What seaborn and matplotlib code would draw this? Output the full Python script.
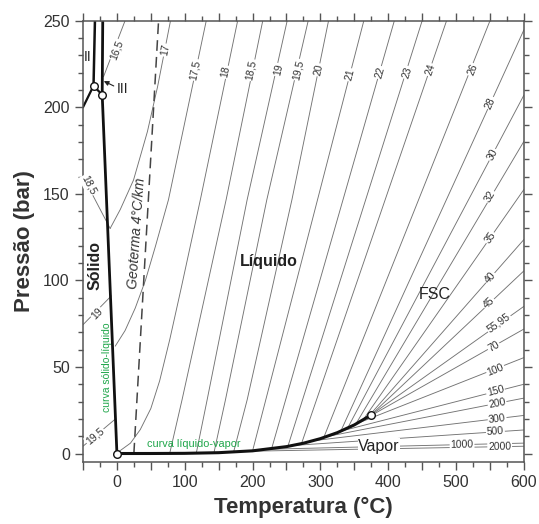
import numpy as np
import pandas as pd
import matplotlib
matplotlib.use("Agg")
import matplotlib.pyplot as plt
from matplotlib.ticker import MultipleLocator, FuncFormatter
import seaborn as sns

# ---------------- data ----------------
# liquid-vapour curve (T in C, P as labelled "bar")
sat_T = [0, 50, 100, 150, 200, 250, 275, 300, 325, 350, 374]
sat_P = [0.0, 0.01, 0.1, 0.48, 1.55, 3.98, 5.95, 8.59, 12.06, 16.53, 22.06]
# solid-liquid curve (ice I)
melt_T = [0, -21.7]
melt_P = [0.0, 207.2]
# ice III - liquid
iii_T = [-21.7, -20.9]
iii_P = [207.2, 250]
# ice II - III
ii_T = [-34.5, -32.4]
ii_P = [212.4, 250]
# ice I - III
i3_T = [-34.5, -21.7]
i3_P = [212.4, 207.2]
# ice I - II
i2_T = [-50, -34.5]
i2_P = [200, 212.4]
# triple / critical points
pts_T = [0, -21.7, -34.5, 374]
pts_P = [0.0, 207.2, 212.4, 22.06]
# geotherm 4 C/km
geo_T = [25, 61.4]
geo_P = [0, 250]

# isochores (label, T points, P points)
iso_names = ["16,5", "17", "17,5", "18", "18,5", "19", "19,5", "20", "21", "22",
             "23", "24", "26", "28", "30", "32", "35", "40", "45", "55,95",
             "70", "100", "150", "200", "300", "500", "1000", "2000"]
iso_T = [[-19.7, 12],
         [-10, 5, 24.5, 45, 60, 79],
         [-2.5, 12, 27, 42, 57, 76, 131.7],
         [0, 20, 34.4, 50, 63, 78, 95, 123, 178],
         [78, 96, 161, 215],
         [117, 133, 192, 251],
         [143, 160, 221, 282],
         [172, 192, 258, 312],
         [200, 364], [228, 409], [252, 450], [272, 486], [305, 550],
         [330, 600], [340, 600], [352, 600], [362, 600], [370, 600],
         [372.5, 600], [374, 600], [366, 600], [352, 600], [330, 600], [312, 600],
         [290, 600], [262, 600], [225, 600], [192, 600]]
iso_P = [[217.7, 250],
         [130, 141, 158, 186, 212, 250],
         [62, 71, 84, 100, 120, 146.6, 250],
         [0.3, 6, 13.8, 26, 42, 66, 96, 146.6, 250],
         [0.4, 31, 146.6, 250],
         [0.2, 31, 146.6, 250],
         [0.4, 31, 146.6, 250],
         [0.8, 31, 146.6, 250],
         [1.55, 250], [2.7, 250], [4.1, 250], [5.6, 250], [9.3, 250],
         [12.9, 244.7], [14.6, 207], [16.9, 180.3], [18.9, 152.5], [21.0, 123.6],
         [21.5, 105.5], [22.06, 85], [20, 71.9], [17, 55.4], [12.9, 40], [10, 32],
         [7.4, 22], [4.7, 13.6], [2.5, 6], [1.3, 4.2]]
lab_T = [0, 71, 115.6, 159.7, 196.8, 238, 267.7, 297, 344, 388, 428, 462, 524,
         550.6, 553.7, 550.6, 550.6, 550.6, 548, 562.8, 555.4, 558, 558, 560.5,
         560.5, 558, 508.8, 564.3]
lab_P = [233, 233, 221.6, 220.4, 221.6, 221.6, 221.6, 221.6, 218.7, 220, 220, 221.6,
         221.6, 202.5, 172.5, 148.3, 124.5, 101.4, 87, 75.4, 61.9, 48.5, 36, 28.9,
         20.2, 12.5, 5.2, 3.9]

# isochores in the solid field
sol_names = ["18,5", "19", "19,5"]
sol_T = [[-50, -10], [-50, -8.4], [-50, -2.1]]
sol_P = [[160, 130], [74.4, 91], [4.2, 20]]
sol_lab_T = [-42, -29.5, -32]
sol_lab_P = [155, 81, 10]

# ---------------- figure ----------------
sns.set_theme(style="ticks")
plt.rcParams['font.family'] = ['Liberation Sans', 'DejaVu Sans']
fig = plt.figure(figsize=(5.39, 5.24), dpi=100)
ax = fig.add_axes([0.154, 0.118, 0.818, 0.8425])
ax.set_xlim(-50, 600)
ax.set_ylim(-5, 250)

thin = dict(color="#737373", lw=0.65)

def draw(T, P, **kw):
    sns.lineplot(x=T, y=P, sort=False, estimator=None, ax=ax, legend=False, **kw)

for T, P in zip(iso_T, iso_P):
    draw(T, P, **thin)
for T, P in zip(sol_T, sol_P):
    draw(T, P, **thin)

draw(geo_T, geo_P, color="#444444", lw=1.1, linestyle=(0, (7, 4)))
draw(sat_T, sat_P, color="#111111", lw=2.2)
draw(melt_T, melt_P, color="#111111", lw=2.0)
draw(iii_T, iii_P, color="#111111", lw=2.0)
draw(ii_T, ii_P, color="#111111", lw=1.8)
draw(i3_T, i3_P, color="#111111", lw=1.6)
draw(i2_T, i2_P, color="#111111", lw=1.6)
sns.scatterplot(x=pts_T, y=pts_P, ax=ax, s=30, color="white", edgecolor="#111111",
                linewidth=1.0, zorder=5, legend=False)

fig.canvas.draw()

def screen_angle(T, P, t0, p0):
    T = np.asarray(T, float); P = np.asarray(P, float)
    i = int(np.clip(np.searchsorted(T, t0) if T[-1] > T[0] else 1, 1, len(T) - 1))
    a = ax.transData.transform((T[i - 1], P[i - 1]))
    b = ax.transData.transform((T[i], P[i]))
    ang = np.degrees(np.arctan2(b[1] - a[1], b[0] - a[0]))
    if ang > 90: ang -= 180
    if ang < -90: ang += 180
    return ang

lab_box = dict(facecolor="white", edgecolor="none", pad=0.6)
for name, T, P, t0, p0 in zip(iso_names, iso_T, iso_P, lab_T, lab_P):
    ax.text(t0, p0, name, fontsize=7.5, color="#333333", ha="center", va="center",
            rotation=screen_angle(T, P, t0, p0), rotation_mode="anchor",
            bbox=lab_box, zorder=4)
for name, T, P, t0, p0 in zip(sol_names, sol_T, sol_P, sol_lab_T, sol_lab_P):
    ax.text(t0, p0, name, fontsize=7.5, color="#333333", ha="center", va="center",
            rotation=screen_angle(T, P, t0, p0), rotation_mode="anchor",
            bbox=lab_box, zorder=4)

# region texts
ax.text(-32, 108.5, "Sólido", fontsize=11.5, fontweight="bold", rotation=90,
        ha="center", va="center", color="#222222")
ax.text(224, 111, "Líquido", fontsize=11.5, fontweight="bold",
        ha="center", va="center", color="#222222")
ax.text(469, 92, "FSC", fontsize=11.5, ha="center", va="center", color="#222222")
ax.text(386, 4.2, "Vapor", fontsize=11.5, ha="center", va="center", color="#222222",
        bbox=dict(facecolor="white", edgecolor="none", pad=0.2), zorder=4)
ax.text(29.5, 127.5, "Geoterma 4°C/km", fontsize=10, style="italic", rotation=86,
        ha="center", va="center", color="#333333")
ax.text(-13.9, 50, "curva sólido-líquido", fontsize=7.5, rotation=90,
        ha="center", va="center", color="#1fa64a")
ax.text(113, 5.5, "curva líquido-vapor", fontsize=7.8,
        ha="center", va="center", color="#1fa64a")
ax.text(-43.4, 229, "II", fontsize=10, ha="center", va="center", color="#222222")
ax.text(8.8, 210.4, "III", fontsize=10, ha="center", va="center", color="#222222")
ax.annotate("", xy=(-23, 215.8), xytext=(-1, 211.6),
            arrowprops=dict(arrowstyle="-|>", color="#222222", lw=0.8,
                            mutation_scale=7))

# axes styling
ax.xaxis.set_major_locator(MultipleLocator(50))
ax.xaxis.set_minor_locator(MultipleLocator(25))
ax.xaxis.set_major_formatter(FuncFormatter(lambda v, p: f"{int(v)}" if v % 100 == 0 else ""))
ax.yaxis.set_major_locator(MultipleLocator(50))
ax.yaxis.set_minor_locator(MultipleLocator(10))
ax.tick_params(which="both", direction="out", top=True, right=True, color="#555555",
               width=1.0, labelsize=11.5, labelcolor="#333333")
ax.tick_params(which="major", length=6)
ax.tick_params(which="minor", length=3.5)
for s in ax.spines.values():
    s.set_color("#555555"); s.set_linewidth(1.1)
ax.set_xlabel("Temperatura (°C)", fontsize=16, fontweight="bold", color="#333333",
              labelpad=5)
ax.set_ylabel("Pressão (bar)", fontsize=16, fontweight="bold", color="#333333",
              labelpad=6)

fig.savefig("out.png", dpi=100)
